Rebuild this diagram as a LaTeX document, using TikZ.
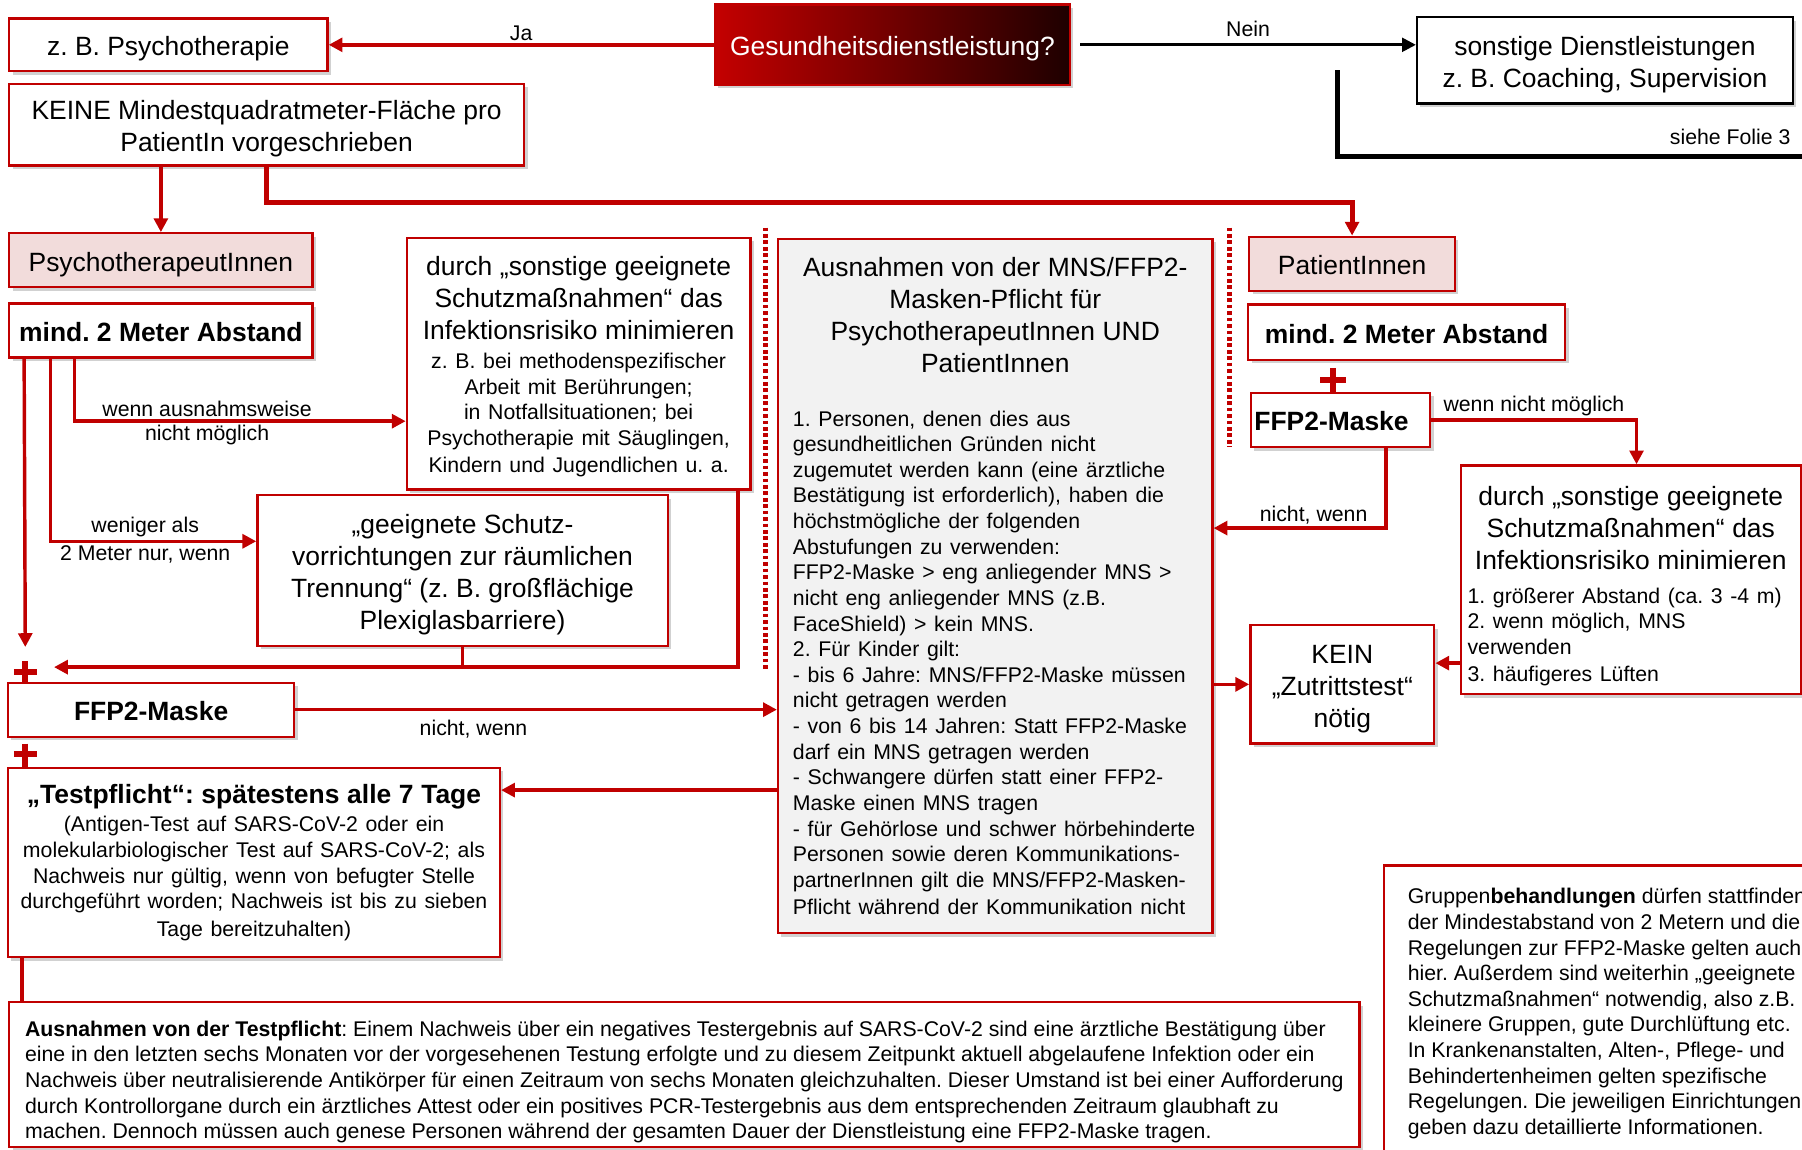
\documentclass[tikz,border=0pt]{standalone}
\usepackage{fontspec}
\setmainfont{Liberation Sans}
\usetikzlibrary{arrows.meta,shadows}

\definecolor{redC}{RGB}{192,0,0}
\definecolor{pinkC}{RGB}{242,220,219}
\definecolor{grayC}{RGB}{242,242,242}
\definecolor{gradL}{RGB}{196,0,0}
\definecolor{gradR}{RGB}{30,0,0}

\newcommand\txtbig{\fontsize{11.5}{14}\selectfont}
\newcommand\txtsmall{\fontsize{9.25}{11.15}\selectfont}
\setlength{\parindent}{0pt}
\frenchspacing

\tikzset{
    rbox/.style={draw=redC, line width=1pt, fill=white, inner sep=0pt, align=center,
        drop shadow={shadow xshift=1.5pt, shadow yshift=-1.5pt, opacity=0.18, fill=black}},
    bigtext/.style={font=\txtbig, text height=#1, text depth=0pt},
    bigtext/.default=9.5pt,
    conn/.style={draw=redC, line width=1.5pt},
    lbl/.style={font=\txtsmall, inner sep=1pt, text=black},
    plusmark/.style={draw=redC, line width=2.6pt},
    dots/.style={draw=redC, line width=2pt, dash pattern=on 1.6pt off 1.2pt}
}

\begin{document}
\begin{tikzpicture}[x=0.5pt,y=-0.5pt,>={Triangle[length=6pt,width=6pt]}]
    \useasboundingbox (0,0) rectangle (1568,1000);
    \clip (0,0) rectangle (1568,1000);

    % === Top: the question and its two answers ===
    \node[rbox, bigtext, minimum width=138.5pt, minimum height=23pt] (qA) at (146.5,39) {z. B. Psychotherapie};
    \node[rbox, bigtext, left color=gradL, right color=gradR, text=white,
        minimum width=154.5pt, minimum height=35pt] (qG) at (776.5,39) {Gesundheitsdienstleistung?};
    \node[rbox, bigtext=23.5pt, draw=black, minimum width=163.5pt, minimum height=37.5pt] (qS) at (1396.5,52.5)
        {sonstige Dienstleistungen\\z. B. Coaching, Supervision};
    \node[rbox, bigtext=23.5pt, minimum width=224pt, minimum height=35.5pt] (qK) at (232,108.5)
        {KEINE Mindestquadratmeter-Fläche pro\\PatientIn vorgeschrieben};

    \draw[conn,->] (qG.west) -- (qA.east) node[lbl,midway,above] {Ja};
    \draw[black,line width=1.2pt,->] ([xshift=4pt]qG.east) -- (qS.west |- qG.east) node[lbl,midway,above=2pt] {Nein};

    \coordinate (folieA) at (1164,61);
    \coordinate (folieB) at (1568,136);
    \draw[black,line width=2pt] (folieA) |- (folieB) node[lbl,pos=1,above left=3pt] {siehe Folie 3};

    % === Left: PsychotherapeutInnen ===
    \node[rbox, bigtext, fill=pinkC, minimum width=132pt, minimum height=23.5pt] (psyA) at (140,226.5) {PsychotherapeutInnen};
    \node[rbox, bigtext, minimum width=132pt, minimum height=23.5pt, font=\txtbig\bfseries] (abstA) at (140,287.5) {mind. 2 Meter Abstand};
    \node[rbox, minimum width=149.5pt, minimum height=109.5pt, text width=142pt] (schutzA) at (503.5,316.5)
        {{\txtbig\rule{0pt}{11pt}durch „sonstige geeignete\\Schutzmaßnahmen“ das\\Infektionsrisiko minimieren\par}
        \vspace{1.3pt}
        \txtsmall z. B. bei methodenspezifischer\\Arbeit mit Berührungen;\\in Notfallsituationen; bei\\
        Psychotherapie mit Säuglingen,\\Kindern und Jugendlichen u. a.};
    \node[rbox, bigtext=51.5pt, minimum width=178.5pt, minimum height=65.5pt] (trennA) at (402.5,496.5)
        {„geeignete Schutz-\\vorrichtungen zur räumlichen\\Trennung“ (z. B. großflächige\\Plexiglasbarriere)};
    \node[rbox, bigtext, minimum width=124.5pt, minimum height=23.5pt, font=\txtbig\bfseries] (maskeA) at (131.5,617.5) {FFP2-Maske};
    \node[rbox, minimum width=214pt, minimum height=82.5pt, text width=210pt] (testA) at (221,750.5)
        {{\txtbig\bfseries „Testpflicht“: spätestens alle 7 Tage\par}
        \vspace{1.3pt}
        \txtsmall (Antigen-Test auf SARS-CoV-2 oder ein\\molekularbiologischer Test auf SARS-CoV-2; als\\
        Nachweis nur gültig, wenn von befugter Stelle\\durchgeführt worden; Nachweis ist bis zu sieben\\
        Tage bereitzuhalten)};

    % === Middle: exceptions ===
    \node[rbox, fill=grayC, minimum width=189pt, minimum height=302pt, text width=176pt, align=left] (ausn) at (866,510)
        {{\centering\txtbig Ausnahmen von der MNS/FFP2-\\Masken-Pflicht für\\PsychotherapeutInnen UND\\PatientInnen\par}
        \vspace{12pt}
        \txtsmall 1. Personen, denen dies aus\\gesundheitlichen Gründen nicht\\
        zugemutet werden kann (eine ärztliche\\Bestätigung ist erforderlich), haben die\\
        höchstmögliche der folgenden\\Abstufungen zu verwenden:\\
        FFP2-Maske > eng anliegender MNS >\\nicht eng anliegender MNS (z.B.\\
        FaceShield) > kein MNS.\\2. Für Kinder gilt:\\
        - bis 6 Jahre: MNS/FFP2-Maske müssen\\nicht getragen werden\\
        - von 6 bis 14 Jahren: Statt FFP2-Maske\\darf ein MNS getragen werden\\
        - Schwangere dürfen statt einer FFP2-\\Maske einen MNS tragen\\
        - für Gehörlose und schwer hörbehinderte\\Personen sowie deren Kommunikations-\\
        partnerInnen gilt die MNS/FFP2-Masken-\\Pflicht während der Kommunikation nicht};

    % === Right: PatientInnen ===
    \node[rbox, bigtext, fill=pinkC, minimum width=89.5pt, minimum height=23.5pt] (psyB) at (1176.5,229.5) {PatientInnen};
    \node[rbox, bigtext, minimum width=138pt, minimum height=24pt, font=\txtbig\bfseries] (abstB) at (1224,289) {mind. 2 Meter Abstand};
    \node[rbox, bigtext, minimum height=23.5pt, text width=75pt, align=left, inner xsep=1.5pt, font=\txtbig\bfseries] (maskeB) at (1166.5,365.5) {FFP2-Maske};
    \node[rbox, minimum width=148pt, minimum height=99.5pt, text width=142pt, align=left] (schutzB) at (1419,504.5)
        {{\centering\txtbig\rule{0pt}{14pt}durch „sonstige geeignete\\Schutzmaßnahmen“ das\\Infektionsrisiko minimieren\par}
        \vspace{3.3pt}
        \txtsmall 1. größerer Abstand (ca. 3 -4 m)\\2. wenn möglich, MNS\\verwenden\\3. häufigeres Lüften};
    \node[rbox, bigtext=37.5pt, minimum width=80pt, minimum height=51.5pt] (keinB) at (1168,595.5) {KEIN\\„Zutrittstest“\\nötig};

    % === Bottom notes ===
    \node[rbox, anchor=north west, inner xsep=10.5pt, inner ysep=10pt, align=left, font=\txtsmall] (gruppe) at (1203,752)
        {Gruppen\textbf{behandlungen} dürfen stattfinden\\der Mindestabstand von 2 Metern und die\\
        Regelungen zur FFP2-Maske gelten auch\\hier. Außerdem sind weiterhin „geeignete\\
        Schutzmaßnahmen“ notwendig, also z.B.\\kleinere Gruppen, gute Durchlüftung etc.\\
        In Krankenanstalten, Alten-, Pflege- und\\Behindertenheimen gelten spezifische\\
        Regelungen. Die jeweiligen Einrichtungen\\geben dazu detaillierte Informationen.};
    \node[rbox, minimum width=587.5pt, minimum height=63pt, align=left, font=\txtsmall, text height=55.9pt, text depth=0pt] (ausnTest) at (595.5,935)
        {\textbf{Ausnahmen von der Testpflicht}: Einem Nachweis über ein negatives Testergebnis auf SARS-CoV-2 sind eine ärztliche Bestätigung über\\
        eine in den letzten sechs Monaten vor der vorgesehenen Testung erfolgte und zu diesem Zeitpunkt aktuell abgelaufene Infektion oder ein\\
        Nachweis über neutralisierende Antikörper für einen Zeitraum von sechs Monaten gleichzuhalten. Dieser Umstand ist bei einer Aufforderung\\
        durch Kontrollorgane durch ein ärztliches Attest oder ein positives PCR-Testergebnis aus dem entsprechenden Zeitraum glaubhaft zu\\
        machen. Dennoch müssen auch genese Personen während der gesamten Dauer der Dienstleistung eine FFP2-Maske tragen.};

    % Connectors from the top box
    \draw[conn,->] (qK.south -| psyA.north) -- (psyA.north);
    \draw[conn,->,line width=2.2pt] (qK.south) -- ++(0,31) -| (psyB.north);

    % Left column
    \coordinate (plusA) at (22,585);
    \coordinate (plusB) at (22,656);
    \coordinate (joinA) at (47,580.5);
    \draw[conn,->] ([xshift=7pt]abstA.south west) -- ([yshift=11pt]plusA);
    \draw[conn,->] ([xshift=18.5pt]abstA.south west) |- ([yshift=12.75pt]trennA.west)
        node[lbl,pos=0.73,above] {weniger als} node[lbl,pos=0.73,below] {2 Meter nur, wenn};
    \draw[conn,->] ([xshift=29pt]abstA.south west) |- ([yshift=-25pt]schutzA.west)
        node[lbl,pos=0.7,above] {wenn ausnahmsweise} node[lbl,pos=0.7,below] {nicht möglich};
    \draw[conn,->] ([xshift=-6pt]schutzA.south east) |- (joinA);
    \draw[conn] (trennA.south) -- (trennA.south |- joinA);
    \draw[plusmark] ([xshift=-5pt]plusA) -- ([xshift=5pt]plusA) ([yshift=5pt]plusA) -- (plusA |- maskeA.north);
    \draw[plusmark] ([xshift=-5pt]plusB) -- ([xshift=5pt]plusB) ([yshift=4.5pt]plusB) -- (plusB |- testA.north);
    \draw[conn,->] (maskeA.east) -- (maskeA.east -| ausn.west) node[lbl,pos=0.37,below=3pt] {nicht, wenn};
    \draw[conn,->] ([yshift=31.5pt]testA.east -| ausn.west) -- ([yshift=31.5pt]testA.east);
    \draw[conn] ([xshift=6.5pt]testA.south west) -- ([xshift=6.5pt]testA.south west |- ausnTest.north);

    % Right column
    \coordinate (plusC) at (1160,331);
    \draw[plusmark] ([xshift=-5.5pt]plusC) -- ([xshift=5.5pt]plusC) ([yshift=5.5pt]plusC) -- (plusC |- maskeB.north);
    \draw[conn,->] (maskeB.east) -| ([xshift=2.5pt]schutzB.north) node[lbl,pos=0.25,above] {wenn nicht möglich};
    \draw[conn,->] ([xshift=19.75pt]maskeB.south) |- ([yshift=25.25pt]ausn.east) node[lbl,pos=0.71,above] {nicht, wenn};
    \draw[conn,->] (ausn.east |- keinB.west) -- (keinB.west);
    \draw[conn,->] ([yshift=9.25pt]keinB.east -| schutzB.west) -- ([yshift=9.25pt]keinB.east);

    % Dotted separators
    \draw[dots] (666,198) -- (666,582);
    \draw[dots] (1070,198) -- (1070,389);
\end{tikzpicture}
\end{document}
